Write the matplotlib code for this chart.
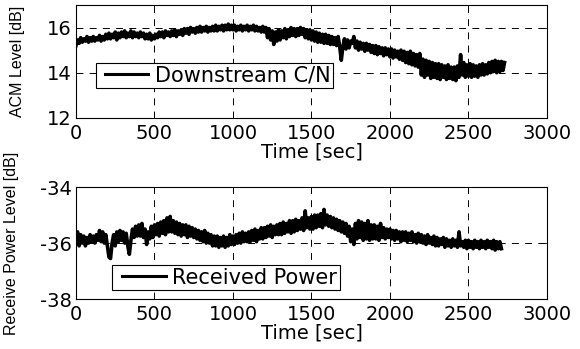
import numpy as np
import matplotlib
matplotlib.use("Agg")
import matplotlib.pyplot as plt
from matplotlib.legend_handler import HandlerLine2D

# =============================================
# DATA (one value every 10 sec)
# =============================================
STEP = 10

acm_db = [
    15.2, 15.45, 15.3, 15.55, 15.35, 15.5, 15.4, 15.6, 15.35, 15.55,
    15.4, 15.6, 15.4, 15.55, 15.45, 15.65, 15.4, 15.6, 15.45, 15.7,
    15.5, 15.75, 15.5, 15.7, 15.55, 15.8, 15.45, 15.75, 15.55, 15.8,
    15.6, 15.85, 15.55, 15.75, 15.6, 15.85, 15.55, 15.8, 15.6, 15.75,
    15.55, 15.8, 15.6, 15.75, 15.5, 15.7, 15.5, 15.75, 15.45, 15.65,
    15.5, 15.7, 15.55, 15.8, 15.6, 15.8, 15.55, 15.85, 15.65, 15.8,
    15.6, 15.85, 15.65, 15.9, 15.6, 15.85, 15.7, 15.9, 15.65, 15.95,
    15.75, 15.95, 15.7, 16.0, 15.8, 15.95, 15.75, 16.0, 15.8, 16.05,
    15.8, 16.0, 15.85, 16.05, 15.8, 16.0, 15.85, 16.05, 15.85, 16.1,
    15.85, 16.05, 15.9, 16.1, 15.85, 16.1, 15.9, 16.15, 15.9, 16.1,
    15.9, 16.1, 15.85, 16.05, 15.9, 16.1, 15.85, 16.05, 15.9, 16.1,
    15.85, 16.05, 15.9, 16.1, 15.85, 16.05, 15.85, 16.0, 15.8, 16.05,
    15.8, 16.0, 15.55, 15.95, 15.45, 15.85, 15.25, 15.8, 15.4, 15.9,
    15.45, 15.85, 15.55, 15.95, 15.5, 15.9, 15.6, 16.0, 15.65, 15.95,
    15.6, 15.95, 15.65, 16.0, 15.7, 15.95, 15.55, 15.9, 15.5, 15.9,
    15.45, 15.85, 15.4, 15.8, 15.35, 15.75, 15.35, 15.7, 15.3, 15.7,
    15.3, 15.65, 15.25, 15.6, 15.25, 15.55, 15.2, 15.6, 15.15, 14.55,
    15.15, 15.5, 15.05, 15.45, 15.1, 15.4, 15.3, 15.6, 15.1, 15.4,
    15.0, 15.35, 15.05, 15.3, 14.95, 15.3, 15.0, 15.25, 14.9, 15.2,
    14.85, 15.2, 14.8, 15.15, 14.85, 15.1, 14.75, 15.1, 14.8, 15.05,
    14.7, 15.05, 14.65, 15.0, 14.7, 14.95, 14.6, 15.0, 14.55, 14.95,
    14.45, 14.9, 14.4, 14.95, 14.35, 14.85, 14.3, 14.8, 14.25, 14.85,
    13.9, 14.6, 13.8, 14.55, 13.9, 14.5, 13.75, 14.45, 13.8, 14.4,
    13.75, 14.4, 13.7, 14.35, 13.8, 14.3, 13.7, 14.35, 13.75, 14.25,
    13.7, 14.25, 13.65, 14.3, 13.8, 14.8, 13.9, 14.45, 13.8, 14.35,
    13.85, 14.4, 13.8, 14.35, 13.85, 14.3, 13.8, 14.35, 13.9, 14.4,
    13.9, 14.35, 13.95, 14.45, 14.0, 14.5, 14.05, 14.55, 14.0, 14.5,
    14.05, 14.5, 14.1, 14.45,
]

rx_power_db = [
    -35.9, -35.6, -36.1, -35.7, -36.0, -35.75, -36.1, -35.8, -36.0, -35.7,
    -35.95, -35.75, -36.0, -35.7, -35.9, -35.55, -35.95, -35.6, -36.0, -35.7,
    -36.1, -36.5, -36.55, -36.0, -35.7, -36.1, -35.6, -35.95, -35.55, -35.9,
    -35.6, -36.0, -35.65, -36.1, -36.4, -35.9, -35.5, -35.8, -35.4, -35.75,
    -35.35, -35.75, -35.3, -35.8, -35.5, -36.05, -35.6, -35.85, -35.4, -35.8,
    -35.35, -35.7, -35.3, -35.75, -35.25, -35.65, -35.2, -35.7, -35.1, -35.6,
    -35.05, -35.6, -35.2, -35.65, -35.25, -35.7, -35.3, -35.75, -35.35, -35.7,
    -35.35, -35.8, -35.4, -35.75, -35.45, -35.8, -35.5, -35.85, -35.55, -35.9,
    -35.6, -35.95, -35.55, -36.0, -35.65, -36.0, -35.7, -36.1, -35.75, -36.1,
    -35.75, -36.15, -35.8, -36.1, -35.75, -36.15, -35.8, -36.1, -35.7, -36.05,
    -35.75, -36.05, -35.7, -36.0, -35.65, -36.0, -35.6, -35.95, -35.65, -35.95,
    -35.6, -35.95, -35.55, -35.9, -35.5, -35.95, -35.55, -35.85, -35.45, -35.85,
    -35.45, -35.8, -35.4, -35.75, -35.35, -35.8, -35.4, -35.7, -35.35, -35.7,
    -35.3, -35.7, -35.25, -35.65, -35.3, -35.6, -35.2, -35.65, -35.2, -35.6,
    -35.15, -35.55, -35.2, -35.5, -35.1, -35.55, -34.85, -35.45, -35.1, -35.5,
    -35.05, -35.5, -35.0, -35.45, -35.0, -35.4, -34.95, -35.45, -34.8, -35.35,
    -35.0, -35.4, -35.05, -35.45, -35.1, -35.5, -35.15, -35.55, -35.2, -35.6,
    -35.25, -35.65, -35.3, -35.75, -35.4, -35.95, -35.5, -36.05, -35.3, -35.85,
    -35.2, -35.8, -35.25, -35.9, -35.3, -35.85, -35.2, -35.9, -35.35, -35.85,
    -35.35, -35.85, -35.4, -35.9, -35.3, -35.8, -35.45, -35.85, -35.5, -35.8,
    -35.5, -35.85, -35.55, -35.9, -35.55, -35.85, -35.6, -35.95, -35.6, -35.9,
    -35.6, -35.95, -35.65, -35.9, -35.6, -35.95, -35.7, -36.0, -35.65, -35.95,
    -35.7, -36.0, -35.75, -36.05, -35.7, -36.0, -35.8, -36.05, -35.75, -36.1,
    -35.8, -36.1, -35.85, -36.05, -35.8, -36.15, -35.85, -36.1, -35.9, -36.15,
    -35.85, -36.1, -35.9, -36.15, -35.6, -36.1, -35.95, -36.15, -35.9, -36.2,
    -35.9, -36.15, -35.95, -36.2, -35.9, -36.15, -35.95, -36.2, -35.9, -36.15,
    -35.95, -36.2, -35.9, -36.15, -35.95, -36.2, -35.9, -36.25, -35.95, -36.2,
    -35.95, -36.2,
]

t_acm = np.arange(len(acm_db)) * STEP
t_rx = np.arange(len(rx_power_db)) * STEP

x_ticks = [0, 500, 1000, 1500, 2000, 2500, 3000]

plt.rcParams['font.family'] = ['DejaVu Sans']
plt.rcParams['axes.unicode_minus'] = False
plt.rcParams['lines.scale_dashes'] = False
YLABEL_FONT = dict(family='Liberation Sans', fontsize=11.5)
TICK_SIZE = 14


def gaya_paksi(ax, ylim, yticks):
    ax.set_xlim(0, 3000)
    ax.set_ylim(*ylim)
    ax.set_xticks(x_ticks)
    ax.set_yticks(yticks)
    ax.tick_params(direction='in', length=4, width=0.6, top=True, right=True,
                   labelsize=TICK_SIZE, colors='k')
    ax.tick_params(axis='x', pad=4)
    ax.tick_params(axis='y', pad=3)
    ax.grid(True, color='k', linestyle=(0, (5, 4.5)), linewidth=0.7)
    ax.set_axisbelow(True)
    for s in ax.spines.values():
        s.set_linewidth(0.8)
    ax.set_xlabel('Time [sec]', fontsize=TICK_SIZE, labelpad=0)


fig = plt.figure(figsize=(5.8, 3.49), dpi=100)

# ---- ACM level ----
ax1 = fig.add_axes([0.131, 0.662, 0.812, 0.324])
ln1, = ax1.plot(t_acm, acm_db, color='k', linewidth=2.6, label='Downstream C/N')
gaya_paksi(ax1, (12, 17), [12, 14, 16])
ax1.set_ylabel('ACM Level [dB]', **YLABEL_FONT)
ax1.yaxis.set_label_coords(-0.108, 0.5)
leg1 = ax1.legend(handles=[ln1], loc='lower left', bbox_to_anchor=(0.0425, 0.265),
                  borderaxespad=0, fontsize=15, frameon=True, fancybox=False,
                  edgecolor='k', framealpha=1, borderpad=0.12, handlelength=2.36,
                  handletextpad=0.33, handler_map={ln1: HandlerLine2D(xpad=0.33)})
leg1.get_frame().set_linewidth(0.8)
leg1.get_lines()[0].set_linewidth(2.2)

# ---- Received power ----
ax2 = fig.add_axes([0.131, 0.143, 0.812, 0.321])
ln2, = ax2.plot(t_rx, rx_power_db, color='k', linewidth=2.6, label='Received Power')
gaya_paksi(ax2, (-38, -34), [-38, -36, -34])
ax2.set_ylabel('Receive Power Level [dB]', **YLABEL_FONT)
ax2.yaxis.set_label_coords(-0.121, 0.5)
leg2 = ax2.legend(handles=[ln2], loc='lower left', bbox_to_anchor=(0.0764, 0.08),
                  borderaxespad=0, fontsize=15, frameon=True, fancybox=False,
                  edgecolor='k', framealpha=1, borderpad=0.12, handlelength=2.45,
                  handletextpad=0.33, handler_map={ln2: HandlerLine2D(xpad=0.38)})
leg2.get_frame().set_linewidth(0.8)
leg2.get_lines()[0].set_linewidth(2.2)

fig.savefig('out.png', dpi=100)
